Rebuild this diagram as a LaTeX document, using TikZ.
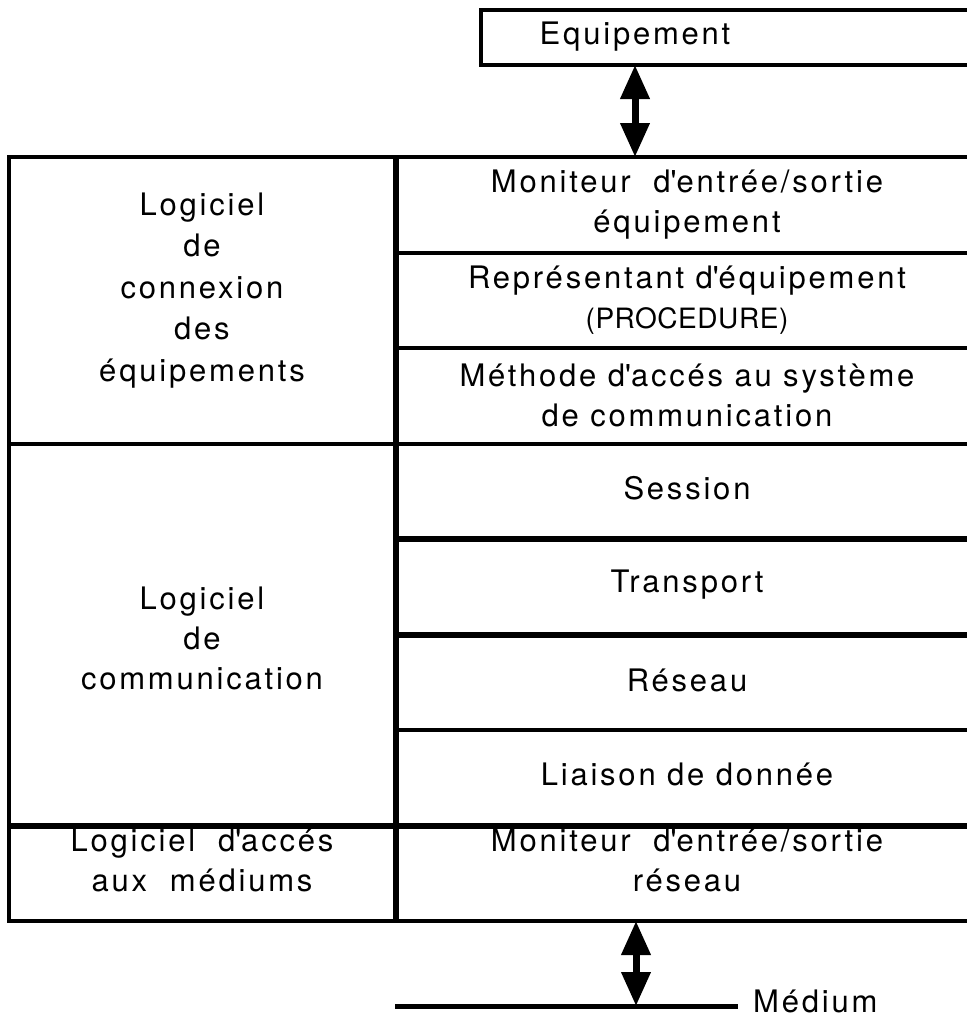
\documentclass[tikz,border=0pt]{standalone}
\usepackage{fontspec}
\setmainfont{TeX Gyre Heros}[LetterSpace=9]
\newfontfamily\plainf{TeX Gyre Heros}[LetterSpace=2]
\usetikzlibrary{arrows.meta}
\newcommand{\ap}{\textquotesingle}
\begin{document}
\begin{tikzpicture}[x=1pt,y=-1pt,
  row/.style={draw, line width=4pt, rectangle, inner sep=0pt, outer sep=0pt,
    minimum width=580pt, minimum height=95.5pt, anchor=north west},
  lbox/.style={draw, line width=4pt, rectangle, inner sep=0pt, outer sep=0pt,
    minimum width=386pt, anchor=north west},
  txt/.style={align=center, inner sep=0pt, font=\fontsize{31}{40}\selectfont},
  thickline/.style={line width=6pt},
  dbl/.style={line width=7pt, {Triangle[length=34pt,width=28pt]}-{Triangle[length=34pt,width=28pt]}},
]
\useasboundingbox (0,0) rectangle (967,1018);

% Equipement
\node[draw, line width=4pt, rectangle, inner sep=0pt, outer sep=0pt,
  minimum width=510pt, minimum height=55pt, anchor=north west] (eqbox) at (481,10) {};
\node[txt] (eq) at (635,37) {Equipement};

% right column
\node[row] (mon1) at (397,157) {};
\node[row] (rep) at (mon1.south west) {};
\node[row] (meth) at (rep.south west) {};
\node[row] (sess) at (meth.south west) {};
\node[row] (trans) at (sess.south west) {};
\node[row] (res) at (trans.south west) {};
\node[row] (liai) at (res.south west) {};
\node[row] (mres) at (liai.south west) {};

\node[txt] (tmon1) at (mon1.center) {Moniteur\ \ d\ap entrée/sortie\\équipement};
\node[txt] (trep) at (rep.center)
  {Représentant d\ap équipement\\{\plainf\fontsize{28}{40}\selectfont (PROCEDURE)}};
\node[txt] (tmeth) at (meth.center) {Méthode d\ap accés au système\\de communication};
\node[txt] (tsess) at ([yshift=3pt]sess.center) {Session};
\node[txt] (ttrans) at ([yshift=2pt]trans.center) {Transport};
\node[txt] (tres) at ([yshift=2pt]res.center) {Réseau};
\node[txt] (tliai) at ([yshift=3pt]liai.center) {Liaison de donnée};
\node[txt] (tmres) at ([yshift=13pt]mres.center) {Moniteur\ \ d\ap entrée/sortie\\réseau};

% thicker separators
\draw[thickline] (sess.south west) -- (sess.south east);
\draw[thickline] (trans.south west) -- (trans.south east);
\draw[thickline] (liai.south west) -- (liai.south east);

% left column
\node[lbox, minimum height=286.5pt] (lcon) at (9,157) {};
\node[lbox, minimum height=382pt] (lcom) at (lcon.south west) {};
\node[lbox, minimum height=95.5pt] (lacc) at (lcom.south west) {};
\draw[thickline] (lcom.south west) -- (lcom.south east);

\node[txt, font=\fontsize{31}{41.5}\selectfont] (tlcon) at ([yshift=10pt]lcon.center)
  {Logiciel\\de\\connexion\\des\\équipements};
\node[txt] (tlcom) at ([yshift=-4pt]lcom.center) {Logiciel\\de\\communication};
\node[txt] (tlacc) at ([yshift=13pt]lacc.center) {Logiciel\ \ d\ap accés\\aux\ \ médiums};

% medium
\coordinate (medL) at (395,1006);
\coordinate (medR) at (738,1006);
\draw[line width=5pt] (medL) -- (medR);
\node[txt, anchor=west] (med) at (753,1001) {Médium};

% arrows
\draw[dbl] (eqbox.south -| eq) -- (mon1.north -| eq);
\coordinate (ab) at (636,1006);
\draw[dbl] (mres.south -| ab) -- (ab);
\end{tikzpicture}
\end{document}
